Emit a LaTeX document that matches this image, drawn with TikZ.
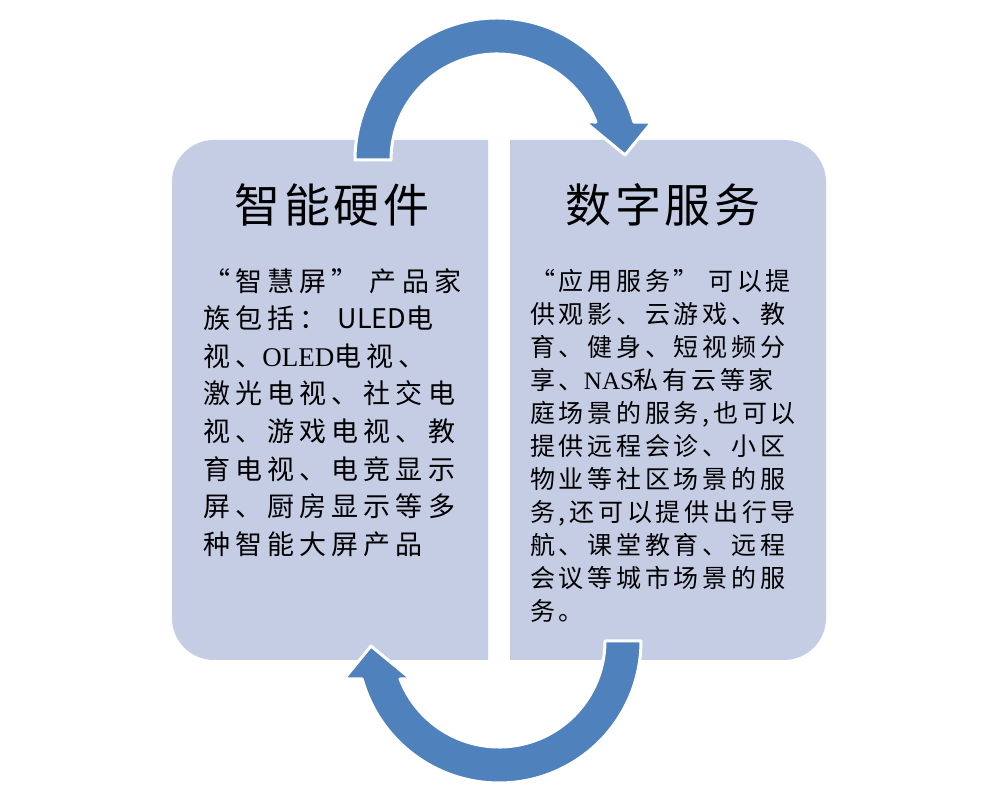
\documentclass[tikz,border=0pt]{standalone}
\usepackage{fontspec}
\setmainfont{Noto Sans CJK SC}
\newfontfamily\titlecjk[LetterSpace=8]{Noto Sans CJK SC}
\newfontfamily\hwcjk[LetterSpace=19]{Noto Sans CJK SC}
\newfontfamily\svcjk[LetterSpace=15]{Noto Sans CJK SC}
\newfontfamily\latinsans{Noto Sans CJK SC}
\newfontfamily\latinserif{Liberation Serif}
\usepackage{xcolor}
\definecolor{panelblue}{RGB}{196,205,228}
\definecolor{arrowblue}{RGB}{79,129,189}

\begin{document}
\begin{tikzpicture}[x=1pt,y=1pt,
  panel/.style={fill=panelblue},
  cyclearrow/.style={fill=arrowblue,draw=white,line width=3pt,line join=round},
  titletext/.style={font=\titlecjk\fontsize{46}{50}\selectfont,inner sep=0pt},
  hwtext/.style={font=\hwcjk\fontsize{27}{37.6}\selectfont,align=left,inner sep=0pt,anchor=north west},
  svtext/.style={font=\svcjk\fontsize{25}{33}\selectfont,align=left,inner sep=0pt,anchor=north west}]
\useasboundingbox (0,0) rectangle (1002,806);
\fill[white] (0,0) rectangle (1002,806);
% the two panels
\path[panel] (488,146) -- (488,666) -- (214,666) arc[start angle=90,end angle=180,radius=42]
  -- (172,188) arc[start angle=180,end angle=270,radius=42] -- cycle;
\path[panel] (510,146) -- (510,666) -- (784,666) arc[start angle=90,end angle=0,radius=42]
  -- (826,188) arc[start angle=0,end angle=-90,radius=42] -- cycle;
% curved arrows, the lower one is the upper one turned round
\foreach \a in {0,180}
\path[cyclearrow,rotate around={\a:(498,405.5)}] (355,646) arc[start angle=180,end angle=15.5,radius=142]
  -- (652,684) -- (625,651) -- (585,684) -- (595.96,683.99)
  arc[start angle=21,end angle=180,radius=106] -- cycle;
% titles
\node[titletext] (hwtitle) at (332,601) {智能硬件};
\node[titletext] (svtitle) at (663,601) {数字服务};
% texts
\node[hwtext] (hwbody) at (203,538) {“智慧屏” 产品家\\族包括： {\latinsans ULED}电\\视、{\latinserif OLED}电视、\\激光电视、社交电\\视、游戏电视、教\\育电视、电竞显示\\屏、厨房显示等多\\种智能大屏产品};
\node[svtext] (svbody) at (530,537) {“应用服务” 可以提\\供观影、云游戏、教\\育、健身、短视频分\\享、{\latinserif NAS}私有云等家\\庭场景的服务,也可以\\提供远程会诊、小区\\物业等社区场景的服\\务,还可以提供出行导\\航、课堂教育、远程\\会议等城市场景的服\\务。};
\end{tikzpicture}
\end{document}
